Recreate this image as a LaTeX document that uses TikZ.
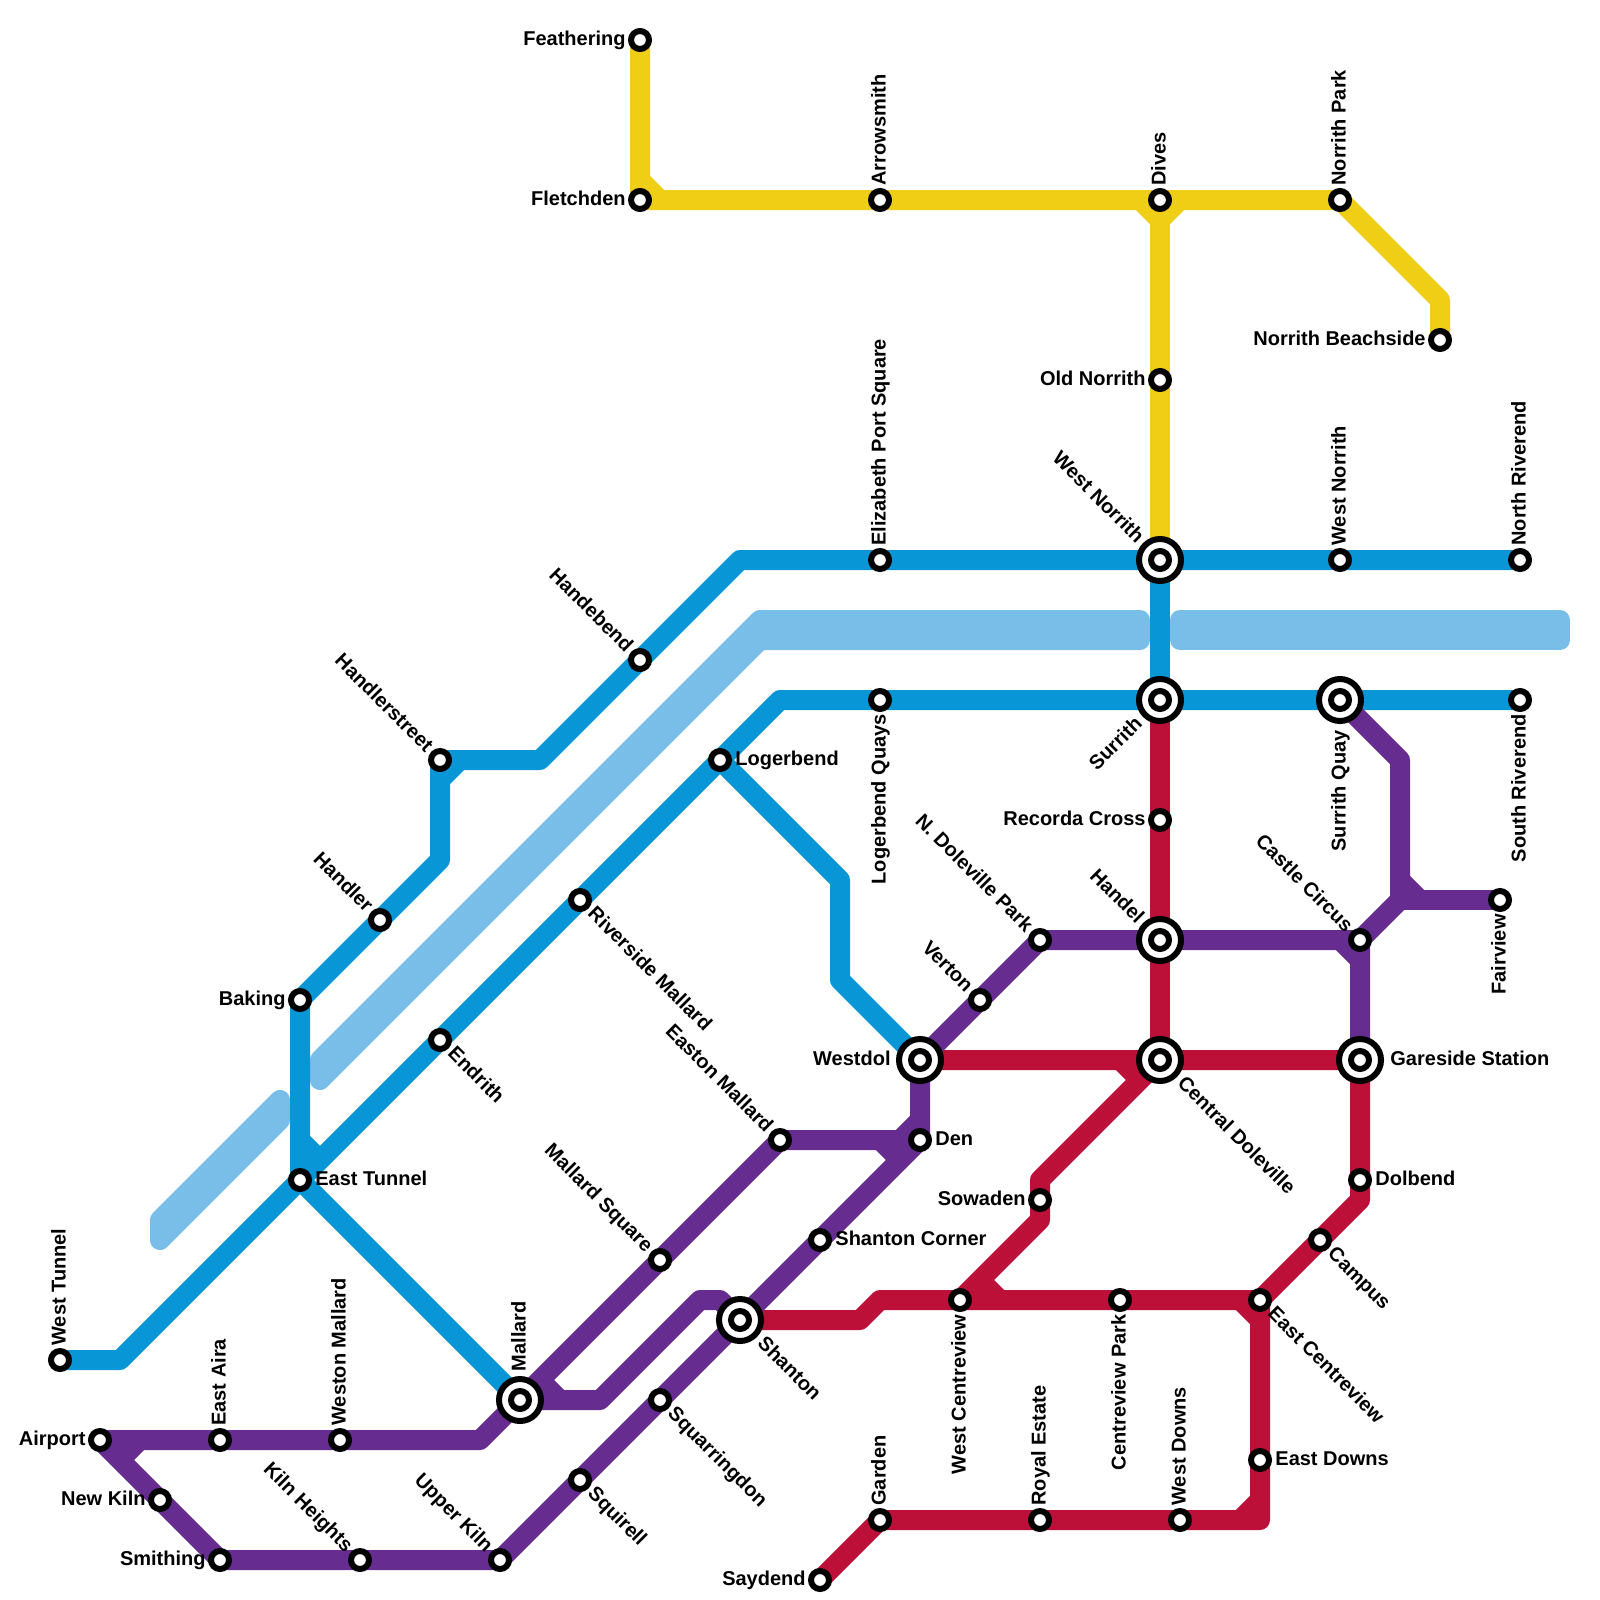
\documentclass[tikz,border=0pt]{standalone}
\usepackage{fontspec}
\setmainfont{Liberation Sans}
\usetikzlibrary{backgrounds}
\definecolor{lineyellow}{HTML}{F0CE15}
\definecolor{lineblue}{HTML}{0896D7}
\definecolor{linered}{HTML}{BD1038}
\definecolor{linepurple}{HTML}{662C90}
\definecolor{riverblue}{HTML}{79BDE9}
\tikzset{
  stn/.style={circle, draw=black, fill=white, line width=3pt, inner sep=0pt, minimum size=9pt},
  xstn/.style={circle, draw=black, fill=white, line width=3pt, inner sep=0pt, minimum size=21pt,
    path picture={\draw[black, line width=3pt] (path picture bounding box.center) circle (4.5pt);}},
  lbl/.style={font=\fontsize{10pt}{12pt}\selectfont\bfseries, inner sep=0pt, text height=7.2pt, text depth=1.5pt},
  lblR/.style={lbl, anchor=west, xshift=#1},
  lblR/.default=7.5pt,
  lblL/.style={lbl, anchor=east, xshift=-#1},
  lblL/.default=7pt,
  lblU/.style={lbl, anchor=west, yshift=#1, rotate=90},
  lblU/.default=7pt,
  lblD/.style={lbl, anchor=east, yshift=-#1, rotate=90},
  lblD/.default=7pt,
  lblNW/.style={lbl, anchor=east, xshift=-#1, yshift=#1, rotate=-45},
  lblNW/.default=5.3pt,
  lblSE/.style={lbl, anchor=west, xshift=#1, yshift=-#1, rotate=-45},
  lblSE/.default=5.3pt,
  lblSW/.style={lbl, anchor=east, xshift=-#1, yshift=-#1, rotate=45},
  lblSW/.default=5.3pt,
  track/.style={line width=10pt, line join=round},
  river/.style={draw=riverblue, fill=riverblue, line width=10pt, line join=round}
}
\begin{document}
\begin{tikzpicture}[x=0.5pt, y=-0.5pt]
  \useasboundingbox (0,0) rectangle (1600,1600);

  % Yellow stations
  \node[stn] (Feathering) at (640,40) {};
  \node[lblL] (lFeathering) at (Feathering) {Feathering};
  \node[stn] (Fletchden) at (640,200) {};
  \node[lblL] (lFletchden) at (Fletchden) {Fletchden};
  \node[stn] (Arrowsmith) at (880,200) {};
  \node[lblU] (lArrowsmith) at (Arrowsmith) {Arrowsmith};
  \node[stn] (Dives) at (1160,200) {};
  \node[lblU] (lDives) at (Dives) {Dives};
  \node[stn] (NorrithPark) at (1340,200) {};
  \node[lblU] (lNorrithPark) at (NorrithPark) {Norrith Park};
  \node[stn] (NorrithBeachside) at (1440,340) {};
  \node[lblL] (lNorrithBeachside) at (NorrithBeachside) {Norrith Beachside};
  \node[stn] (OldNorrith) at (1160,380) {};
  \node[lblL] (lOldNorrith) at (OldNorrith) {Old Norrith};

  % Blue stations
  \node[xstn] (WestNorrith) at (1160,560) {};
  \node[lblNW=9.8pt] (lWestNorrith) at (WestNorrith) {West Norrith};
  \node[stn] (ElizabethPort) at (880,560) {};
  \node[lblU] (lElizabethPort) at (ElizabethPort) {Elizabeth Port Square};
  \node[stn] (WestNorrithB) at (1340,560) {};
  \node[lblU] (lWestNorrithB) at (WestNorrithB) {West Norrith};
  \node[stn] (NorthRiverend) at (1520,560) {};
  \node[lblU] (lNorthRiverend) at (NorthRiverend) {North Riverend};
  \node[stn] (Handebend) at (640,660) {};
  \node[lblNW] (lHandebend) at (Handebend) {Handebend};
  \node[stn] (Handlerstreet) at (440,760) {};
  \node[lblNW] (lHandlerstreet) at (Handlerstreet) {Handlerstreet};
  \node[stn] (Handler) at (380,920) {};
  \node[lblNW] (lHandler) at (Handler) {Handler};
  \node[stn] (Baking) at (300,1000) {};
  \node[lblL] (lBaking) at (Baking) {Baking};
  \node[stn] (EastTunnel) at (300,1180) {};
  \node[lblR] (lEastTunnel) at (EastTunnel) {East Tunnel};
  \node[stn] (Logerbend) at (720,760) {};
  \node[lblR] (lLogerbend) at (Logerbend) {Logerbend};
  \node[stn] (RiversideMallard) at (580,900) {};
  \node[lblSE] (lRiversideMallard) at (RiversideMallard) {Riverside Mallard};
  \node[stn] (Endrith) at (440,1040) {};
  \node[lblSE] (lEndrith) at (Endrith) {Endrith};
  \node[stn] (WestTunnel) at (60,1360) {};
  \node[lblU] (lWestTunnel) at (WestTunnel) {West Tunnel};
  \node[stn] (LogerbendQuays) at (880,700) {};
  \node[lblD] (lLogerbendQuays) at (LogerbendQuays) {Logerbend Quays};
  \node[xstn] (Surrith) at (1160,700) {};
  \node[lblSW=10.2pt] (lSurrith) at (Surrith) {Surrith};
  \node[xstn] (SurrithQuay) at (1340,700) {};
  \node[lblD=15pt] (lSurrithQuay) at (SurrithQuay) {Surrith Quay};
  \node[stn] (SouthRiverend) at (1520,700) {};
  \node[lblD] (lSouthRiverend) at (SouthRiverend) {South Riverend};

  % Purple stations
  \node[xstn] (Mallard) at (520,1400) {};
  \node[lblU=14.2pt] (lMallard) at (Mallard) {Mallard};
  \node[xstn] (Handel) at (1160,940) {};
  \node[lblNW=9.8pt] (lHandel) at (Handel) {Handel};
  \node[stn] (NDoleville) at (1040,940) {};
  \node[lblNW] (lNDoleville) at (NDoleville) {N. Doleville Park};
  \node[stn] (Verton) at (980,1000) {};
  \node[lblNW] (lVerton) at (Verton) {Verton};
  \node[stn] (CastleCircus) at (1360,940) {};
  \node[lblNW] (lCastleCircus) at (CastleCircus) {Castle Circus};
  \node[stn] (Fairview) at (1500,900) {};
  \node[lblD] (lFairview) at (Fairview) {Fairview};
  \node[stn] (Den) at (920,1140) {};
  \node[lblR] (lDen) at (Den) {Den};
  \node[stn] (EastonMallard) at (780,1140) {};
  \node[lblNW] (lEastonMallard) at (EastonMallard) {Easton Mallard};
  \node[stn] (MallardSquare) at (660,1260) {};
  \node[lblNW] (lMallardSquare) at (MallardSquare) {Mallard Square};
  \node[stn] (ShantonCorner) at (820,1240) {};
  \node[lblR] (lShantonCorner) at (ShantonCorner) {Shanton Corner};
  \node[stn] (Squarringdon) at (660,1400) {};
  \node[lblSE] (lSquarringdon) at (Squarringdon) {Squarringdon};
  \node[stn] (Squirell) at (580,1480) {};
  \node[lblSE] (lSquirell) at (Squirell) {Squirell};
  \node[stn] (UpperKiln) at (500,1560) {};
  \node[lblNW] (lUpperKiln) at (UpperKiln) {Upper Kiln};
  \node[stn] (KilnHeights) at (360,1560) {};
  \node[lblNW] (lKilnHeights) at (KilnHeights) {Kiln Heights};
  \node[stn] (Smithing) at (220,1560) {};
  \node[lblL] (lSmithing) at (Smithing) {Smithing};
  \node[stn] (NewKiln) at (160,1500) {};
  \node[lblL] (lNewKiln) at (NewKiln) {New Kiln};
  \node[stn] (Airport) at (100,1440) {};
  \node[lblL] (lAirport) at (Airport) {Airport};
  \node[stn] (EastAira) at (220,1440) {};
  \node[lblU] (lEastAira) at (EastAira) {East Aira};
  \node[stn] (WestonMallard) at (340,1440) {};
  \node[lblU] (lWestonMallard) at (WestonMallard) {Weston Mallard};

  % Red stations
  \node[xstn] (Westdol) at (920,1060) {};
  \node[lblL=14.5pt] (lWestdol) at (Westdol) {Westdol};
  \node[xstn] (CentralDoleville) at (1160,1060) {};
  \node[lblSE=10.2pt] (lCentralDoleville) at (CentralDoleville) {Central Doleville};
  \node[xstn] (Gareside) at (1360,1060) {};
  \node[lblR=15pt] (lGareside) at (Gareside) {Gareside Station};
  \node[xstn] (Shanton) at (740,1320) {};
  \node[lblSE=10.2pt] (lShanton) at (Shanton) {Shanton};
  \node[stn] (RecordaCross) at (1160,820) {};
  \node[lblL] (lRecordaCross) at (RecordaCross) {Recorda Cross};
  \node[stn] (Sowaden) at (1040,1200) {};
  \node[lblL] (lSowaden) at (Sowaden) {Sowaden};
  \node[stn] (WestCentreview) at (960,1300) {};
  \node[lblD] (lWestCentreview) at (WestCentreview) {West Centreview};
  \node[stn] (CentreviewPark) at (1120,1300) {};
  \node[lblD] (lCentreviewPark) at (CentreviewPark) {Centreview Park};
  \node[stn] (EastCentreview) at (1260,1300) {};
  \node[lblSE] (lEastCentreview) at (EastCentreview) {East Centreview};
  \node[stn] (Campus) at (1320,1240) {};
  \node[lblSE] (lCampus) at (Campus) {Campus};
  \node[stn] (Dolbend) at (1360,1180) {};
  \node[lblR] (lDolbend) at (Dolbend) {Dolbend};
  \node[stn] (EastDowns) at (1260,1460) {};
  \node[lblR] (lEastDowns) at (EastDowns) {East Downs};
  \node[stn] (WestDowns) at (1180,1520) {};
  \node[lblU] (lWestDowns) at (WestDowns) {West Downs};
  \node[stn] (RoyalEstate) at (1040,1520) {};
  \node[lblU] (lRoyalEstate) at (RoyalEstate) {Royal Estate};
  \node[stn] (Garden) at (880,1520) {};
  \node[lblU] (lGarden) at (Garden) {Garden};
  \node[stn] (Saydend) at (820,1580) {};
  \node[lblL] (lSaydend) at (Saydend) {Saydend};

  % Bends
  \coordinate (yF1) at (640,180);
  \coordinate (yF2) at (660,200);
  \coordinate (yD1) at (1140,200);
  \coordinate (yD2) at (1160,220);
  \coordinate (yD3) at (1180,200);
  \coordinate (yN1) at (1440,300);
  \coordinate (bT1) at (120,1360);
  \coordinate (bT2) at (300,1140);
  \coordinate (bT3) at (320,1160);
  \coordinate (bH1) at (440,860);
  \coordinate (bH2) at (440,780);
  \coordinate (bH3) at (460,760);
  \coordinate (bH4) at (540,760);
  \coordinate (bE1) at (740,560);
  \coordinate (bS1) at (780,700);
  \coordinate (bW1) at (840,880);
  \coordinate (bW2) at (840,980);
  \coordinate (pA1) at (120,1460);
  \coordinate (pA2) at (140,1440);
  \coordinate (pM1) at (480,1440);
  \coordinate (pD1) at (900,1140);
  \coordinate (pD2) at (920,1120);
  \coordinate (pD3) at (880,1140);
  \coordinate (pD4) at (900,1160);
  \coordinate (pQ1) at (540,1380);
  \coordinate (pQ2) at (560,1400);
  \coordinate (pQ3) at (600,1400);
  \coordinate (pQ4) at (700,1300);
  \coordinate (pQ5) at (720,1300);
  \coordinate (pC1) at (1340,940);
  \coordinate (pC2) at (1360,960);
  \coordinate (pS1) at (1400,900);
  \coordinate (pS2) at (1400,760);
  \coordinate (pF1) at (1400,880);
  \coordinate (pF2) at (1420,900);
  \coordinate (rD1) at (1120,1060);
  \coordinate (rD2) at (1140,1080);
  \coordinate (rO1) at (1040,1180);
  \coordinate (rO2) at (1040,1220);
  \coordinate (rW1) at (980,1280);
  \coordinate (rW2) at (1000,1300);
  \coordinate (rS1) at (860,1320);
  \coordinate (rS2) at (880,1300);
  \coordinate (rG1) at (1360,1200);
  \coordinate (rE1) at (1240,1300);
  \coordinate (rE2) at (1260,1320);
  \coordinate (rE3) at (1260,1520);
  \coordinate (rE4) at (1240,1520);
  \coordinate (rE5) at (1260,1500);

  \begin{scope}[on background layer]
    % River
    \path[river] (1180,620) -- (1560,620) -- (1560,640) -- (1180,640) -- cycle;
    \path[river] (320,1060) -- (760,620) -- (1140,620) -- (1140,640) -- (760,640) -- (320,1080) -- cycle;
    \path[river] (160,1220) -- (280,1100) -- (280,1120) -- (160,1240) -- cycle;

    % Yellow
    \draw[track, lineyellow] (Feathering.center) -- (Fletchden.center) -- (Arrowsmith.center) -- (Dives.center) -- (NorrithPark.center) -- (yN1) -- (NorrithBeachside.center);
    \draw[track, lineyellow] (yF1) -- (yF2);
    \draw[track, lineyellow] (yD1) -- (yD2) -- (yD3);
    \draw[track, lineyellow] (Dives.center) -- (OldNorrith.center) -- (WestNorrith.center);

    % Blue
    \draw[track, lineblue] (WestTunnel.center) -- (bT1) -- (EastTunnel.center) -- (Endrith.center) -- (RiversideMallard.center) -- (Logerbend.center) -- (bS1) -- (LogerbendQuays.center) -- (Surrith.center) -- (SurrithQuay.center) -- (SouthRiverend.center);
    \draw[track, lineblue] (EastTunnel.center) -- (Mallard.center);
    \draw[track, lineblue] (bT2) -- (bT3);
    \draw[track, lineblue] (EastTunnel.center) -- (Baking.center) -- (Handler.center) -- (bH1) -- (Handlerstreet.center) -- (bH4) -- (Handebend.center) -- (bE1) -- (ElizabethPort.center) -- (WestNorrith.center) -- (WestNorrithB.center) -- (NorthRiverend.center);
    \draw[track, lineblue] (bH2) -- (bH3);
    \draw[track, lineblue] (Logerbend.center) -- (bW1) -- (bW2) -- (Westdol.center);
    \draw[track, lineblue] (WestNorrith.center) -- (Surrith.center);

    % Red
    \draw[track, linered] (Surrith.center) -- (RecordaCross.center) -- (Handel.center) -- (CentralDoleville.center);
    \draw[track, linered] (Westdol.center) -- (CentralDoleville.center) -- (Gareside.center) -- (Dolbend.center) -- (rG1) -- (Campus.center) -- (EastCentreview.center) -- (EastDowns.center) -- (rE3) -- (WestDowns.center) -- (RoyalEstate.center) -- (Garden.center) -- (Saydend.center);
    \draw[track, linered] (rD1) -- (rD2);
    \draw[track, linered] (CentralDoleville.center) -- (rO1) -- (Sowaden.center) -- (rO2) -- (WestCentreview.center);
    \draw[track, linered] (rW1) -- (rW2);
    \draw[track, linered] (Shanton.center) -- (rS1) -- (rS2) -- (WestCentreview.center) -- (CentreviewPark.center) -- (EastCentreview.center);
    \draw[track, linered] (rE1) -- (rE2);
    \draw[track, linered] (rE4) -- (rE5);

    % Purple
    \draw[track, linepurple] (Airport.center) -- (EastAira.center) -- (WestonMallard.center) -- (pM1) -- (Mallard.center);
    \draw[track, linepurple] (pA1) -- (pA2);
    \draw[track, linepurple] (Airport.center) -- (NewKiln.center) -- (Smithing.center) -- (KilnHeights.center) -- (UpperKiln.center) -- (Squirell.center) -- (Squarringdon.center) -- (Shanton.center) -- (ShantonCorner.center) -- (Den.center);
    \draw[track, linepurple] (Mallard.center) -- (MallardSquare.center) -- (EastonMallard.center) -- (Den.center) -- (Westdol.center);
    \draw[track, linepurple] (pD1) -- (pD2);
    \draw[track, linepurple] (pD3) -- (pD4);
    \draw[track, linepurple] (Mallard.center) -- (pQ3) -- (pQ4) -- (pQ5) -- (Shanton.center);
    \draw[track, linepurple] (pQ1) -- (pQ2);
    \draw[track, linepurple] (Westdol.center) -- (Verton.center) -- (NDoleville.center) -- (Handel.center) -- (CastleCircus.center) -- (Gareside.center);
    \draw[track, linepurple] (pC1) -- (pC2);
    \draw[track, linepurple] (CastleCircus.center) -- (pS1) -- (pS2) -- (SurrithQuay.center);
    \draw[track, linepurple] (pS1) -- (Fairview.center);
    \draw[track, linepurple] (pF1) -- (pF2);
  \end{scope}
\end{tikzpicture}
\end{document}
